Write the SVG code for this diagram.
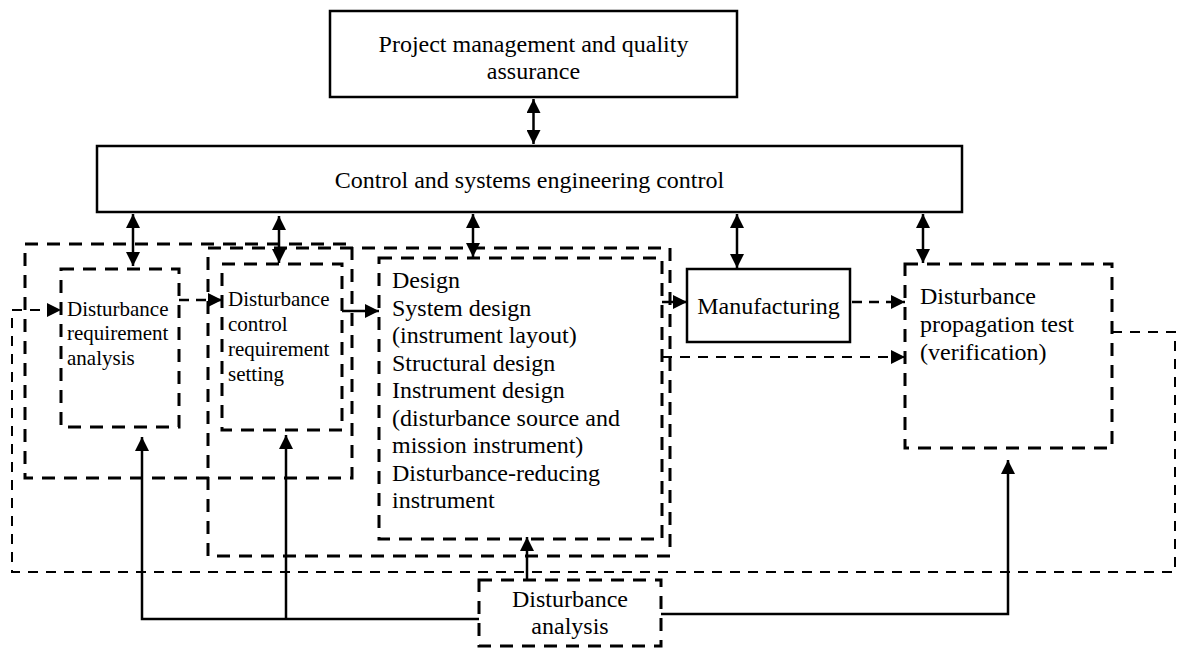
<svg xmlns="http://www.w3.org/2000/svg" width="1178" height="649" viewBox="0 0 1178 649">
<style>
.solid{fill:none;stroke:#000;stroke-width:2.5}
.dbox{fill:none;stroke:#000;stroke-width:3;stroke-dasharray:13 9}
.line{fill:none;stroke:#000;stroke-width:2.5}
.dline{fill:none;stroke:#000;stroke-width:2.5;stroke-dasharray:10 7}
.thin{fill:none;stroke:#000;stroke-width:2;stroke-dasharray:10 8}
text{font-family:"Liberation Serif","Times New Roman",serif;font-size:24px;fill:#000}
.sm{font-size:21px}
.c{text-anchor:middle}
</style>
<defs>
<marker id="ah" viewBox="0 0 14 14" markerWidth="14" markerHeight="14" refX="14" refY="7" orient="auto-start-reverse" markerUnits="userSpaceOnUse">
<path d="M0,0 L14,7 L0,14 z" fill="#000" stroke="none"/>
</marker>
</defs>
<rect width="1178" height="649" fill="#fff"/>

<g id="boxA"><rect class="dbox" x="25" y="244" width="327" height="234"/></g>
<g id="boxB"><rect class="dbox" x="208" y="248" width="462" height="308"/></g>

<g id="pm">
<rect class="solid" x="330" y="11" width="407" height="86"/>
<text class="c" x="533.5" y="52">Project management and quality</text>
<text class="c" x="533.5" y="79">assurance</text>
</g>
<g id="control">
<rect class="solid" x="97" y="146" width="865" height="66"/>
<text class="c" x="529.5" y="188">Control and systems engineering control</text>
</g>
<g id="dra">
<rect class="dbox" x="61" y="269" width="118" height="158"/>
<text class="sm" x="67" y="316">Disturbance</text>
<text class="sm" x="67" y="340">requirement</text>
<text class="sm" x="67" y="365">analysis</text>
</g>
<g id="dcrs">
<rect class="dbox" x="222" y="264" width="120" height="166"/>
<text class="sm" x="228" y="306">Disturbance</text>
<text class="sm" x="228" y="331">control</text>
<text class="sm" x="228" y="356">requirement</text>
<text class="sm" x="228" y="381">setting</text>
</g>
<g id="design">
<rect class="dbox" x="379" y="258" width="283" height="281"/>
<text x="392" y="288">Design</text>
<text x="392" y="315.5">System design</text>
<text x="392" y="343">(instrument layout)</text>
<text x="392" y="370.5">Structural design</text>
<text x="392" y="398">Instrument design</text>
<text x="392" y="425.5">(disturbance source and</text>
<text x="392" y="453">mission instrument)</text>
<text x="392" y="480.5">Disturbance-reducing</text>
<text x="392" y="508">instrument</text>
</g>
<g id="manufacturing">
<rect class="solid" x="687" y="269" width="163" height="73"/>
<text class="c" x="768.5" y="314">Manufacturing</text>
</g>
<g id="dpt">
<rect class="dbox" x="905" y="264" width="207" height="184"/>
<text x="920" y="304">Disturbance</text>
<text x="920" y="332">propagation test</text>
<text x="920" y="360">(verification)</text>
</g>
<g id="da">
<rect class="dbox" x="479" y="580" width="182" height="66"/>
<text class="c" x="570" y="607">Disturbance</text>
<text class="c" x="570" y="634">analysis</text>
</g>

<g id="connectors">
<line class="line" x1="533.5" y1="99" x2="533.5" y2="144" marker-start="url(#ah)" marker-end="url(#ah)"/>
<line class="line" x1="133" y1="214" x2="133" y2="266" marker-start="url(#ah)" marker-end="url(#ah)"/>
<line class="line" x1="279" y1="216" x2="279" y2="263" marker-start="url(#ah)" marker-end="url(#ah)"/>
<line class="line" x1="473" y1="214" x2="473" y2="257" marker-start="url(#ah)" marker-end="url(#ah)"/>
<line class="line" x1="737" y1="214" x2="737" y2="268" marker-start="url(#ah)" marker-end="url(#ah)"/>
<line class="line" x1="923" y1="214" x2="923" y2="263" marker-start="url(#ah)" marker-end="url(#ah)"/>
<line class="dline" x1="179" y1="300" x2="222" y2="300" marker-end="url(#ah)"/>
<polyline class="thin" points="1112,332 1175,332 1175,572 12,572 12,310 61,310" marker-end="url(#ah)"/>
<line class="line" x1="342" y1="311" x2="379" y2="311" marker-end="url(#ah)"/>
<line class="line" x1="662" y1="302" x2="687" y2="302" marker-end="url(#ah)"/>
<line class="dline" x1="852" y1="302" x2="905" y2="302" marker-end="url(#ah)"/>
<line class="thin" x1="662" y1="357" x2="905" y2="357" marker-end="url(#ah)"/>
<line class="line" x1="527" y1="580" x2="527" y2="537" marker-end="url(#ah)"/>
<polyline class="line" points="479,619 142,619 142,437" marker-end="url(#ah)"/>
<line class="line" x1="286" y1="619" x2="286" y2="435" marker-end="url(#ah)"/>
<polyline class="line" points="661,614 1008,614 1008,460" marker-end="url(#ah)"/>
</g>
</svg>
